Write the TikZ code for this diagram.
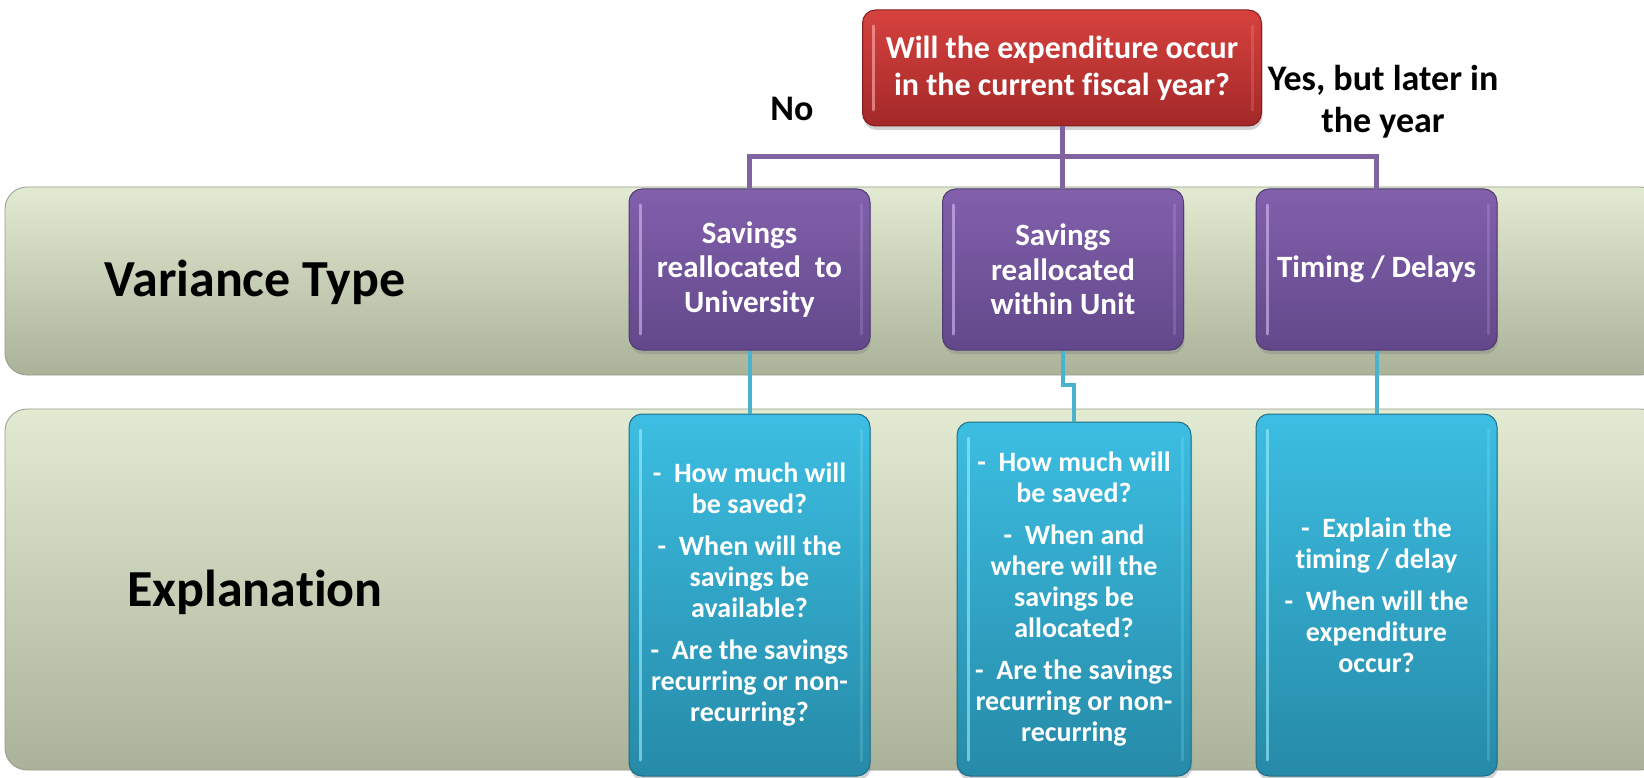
\documentclass[tikz,border=0pt]{standalone}
\usepackage{fontspec}
\setmainfont{Carlito}[Ligatures=NoCommon]
\usetikzlibrary{shadows}
\definecolor{redtop}{RGB}{214,66,62}
\definecolor{redbot}{RGB}{163,40,40}
\definecolor{redline}{RGB}{130,30,30}
\definecolor{purtop}{RGB}{130,96,172}
\definecolor{purbot}{RGB}{98,72,138}
\definecolor{purline}{RGB}{80,58,115}
\definecolor{purhi}{RGB}{215,190,245}
\definecolor{blutop}{RGB}{60,190,226}
\definecolor{blubot}{RGB}{38,138,168}
\definecolor{bluline}{RGB}{30,110,135}
\definecolor{bluhi}{RGB}{160,240,255}
\definecolor{bandtop}{RGB}{226,235,209}
\definecolor{bandbot}{RGB}{170,178,154}
\definecolor{bandline}{RGB}{150,156,140}
\definecolor{purconn}{RGB}{128,100,162}
\definecolor{bluconn}{RGB}{75,178,205}
\tikzset{
  band/.style={rounded corners=22pt, top color=bandtop, bottom color=bandbot, draw=bandline, line width=0.8pt},
  bigtxt/.style={font=\fontsize{52}{62}\selectfont\bfseries, text=black, inner sep=0pt},
  lbl/.style={font=\fontsize{36}{42}\selectfont\bfseries, text=black, align=center, inner sep=0pt},
  boxbase/.style={rectangle, rounded corners=13pt, text=white, align=center, inner sep=0pt, line width=1pt,
    drop shadow={opacity=0.35, shadow xshift=1pt, shadow yshift=-4pt}},
  hilite/.style={path picture={
    \draw[#1, line width=3pt, opacity=0.6, line cap=round]
      ([xshift=11pt,yshift=-16pt]path picture bounding box.north west) --
      ([xshift=11pt,yshift=16pt]path picture bounding box.south west);
    \draw[#1, line width=3pt, opacity=0.2, line cap=round]
      ([xshift=-9pt,yshift=-16pt]path picture bounding box.north east) --
      ([xshift=-9pt,yshift=16pt]path picture bounding box.south east);}},
  redbox/.style={boxbase, minimum width=399pt, minimum height=116pt, top color=redtop, bottom color=redbot,
    draw=redline, hilite=red!30!white, font=\fontsize{32}{37}\selectfont\bfseries},
  purbox/.style={boxbase, minimum width=241pt, minimum height=161pt, top color=purtop, bottom color=purbot,
    draw=purline, hilite=purhi, font=\fontsize{31}{34.5}\selectfont\bfseries},
  blubox/.style={boxbase, minimum width=241pt, minimum height=362pt, top color=blutop, bottom color=blubot,
    draw=bluline, hilite=bluhi, font=\fontsize{28}{31}\selectfont\bfseries},
  pline/.style={draw=purconn, line width=5pt},
  bline/.style={draw=bluconn, line width=4pt}
}
\begin{document}
\begin{tikzpicture}[x=1pt,y=-1pt]
\useasboundingbox (0,0) rectangle (1644,778);
\clip (0,0) rectangle (1644,778);
\fill[white] (0,0) rectangle (1644,778);

% bands
\path[band] (5,187) rectangle (1662,375);
\path[band] (5,409) rectangle (1662,770);

\node[bigtxt, anchor=base] (vt) at (255,296) {Variance Type};
\node[bigtxt, anchor=base] (ex) at (255,606) {Explanation};

% question
\node[redbox] (q) at (1062,68) {Will the expenditure occur\\in the current fiscal year?};
\node[lbl] (no) at (792,109) {No};
\node[lbl] (yes) at (1383,102) {Yes, but later in\\the year};

% variance types
\node[purbox] (p1) at (749.5,269.5) {Savings\\reallocated\ \ to\\University};
\node[purbox] (p2) at (1063,269.5) {Savings\\reallocated\\within Unit};
\node[purbox] (p3) at (1376.5,269.5) {Timing / Delays};

% explanations
\node[blubox] (b1) at (749.5,595) {-\ \ How much will\\be saved?\\[11pt]
  -\ \ When will the\\savings be\\available?\\[11pt]
  -\ \ Are the savings\\recurring or non-\\recurring?};
\node[blubox, minimum width=234pt, minimum height=354pt] (b2) at (1074,599) {-\ \ How much will\\be saved?\\[11pt]
  -\ \ When and\\where will the\\savings be\\allocated?\\[11pt]
  -\ \ Are the savings\\recurring or non-\\recurring};
\node[blubox] (b3) at (1376.5,595) {-\ \ Explain the\\timing / delay\\[11pt]
  -\ \ When will the\\expenditure\\occur?};

% connectors
\coordinate (bar) at (0,157);
\coordinate (jog) at (0,385);
\draw[pline] (q.south) -- (q.south |- bar) -| (p1.north);
\draw[pline] (q.south) -- (q.south |- bar) -| (p3.north);
\draw[pline] (q.south) -- (q.south |- p2.north);
\draw[bline] (p1.south) -- (b1.north);
\draw[bline] (p2.south) -- (p2.south |- jog) -| (b2.north);
\draw[bline] (p3.south) -- (b3.north);
\end{tikzpicture}
\end{document}
